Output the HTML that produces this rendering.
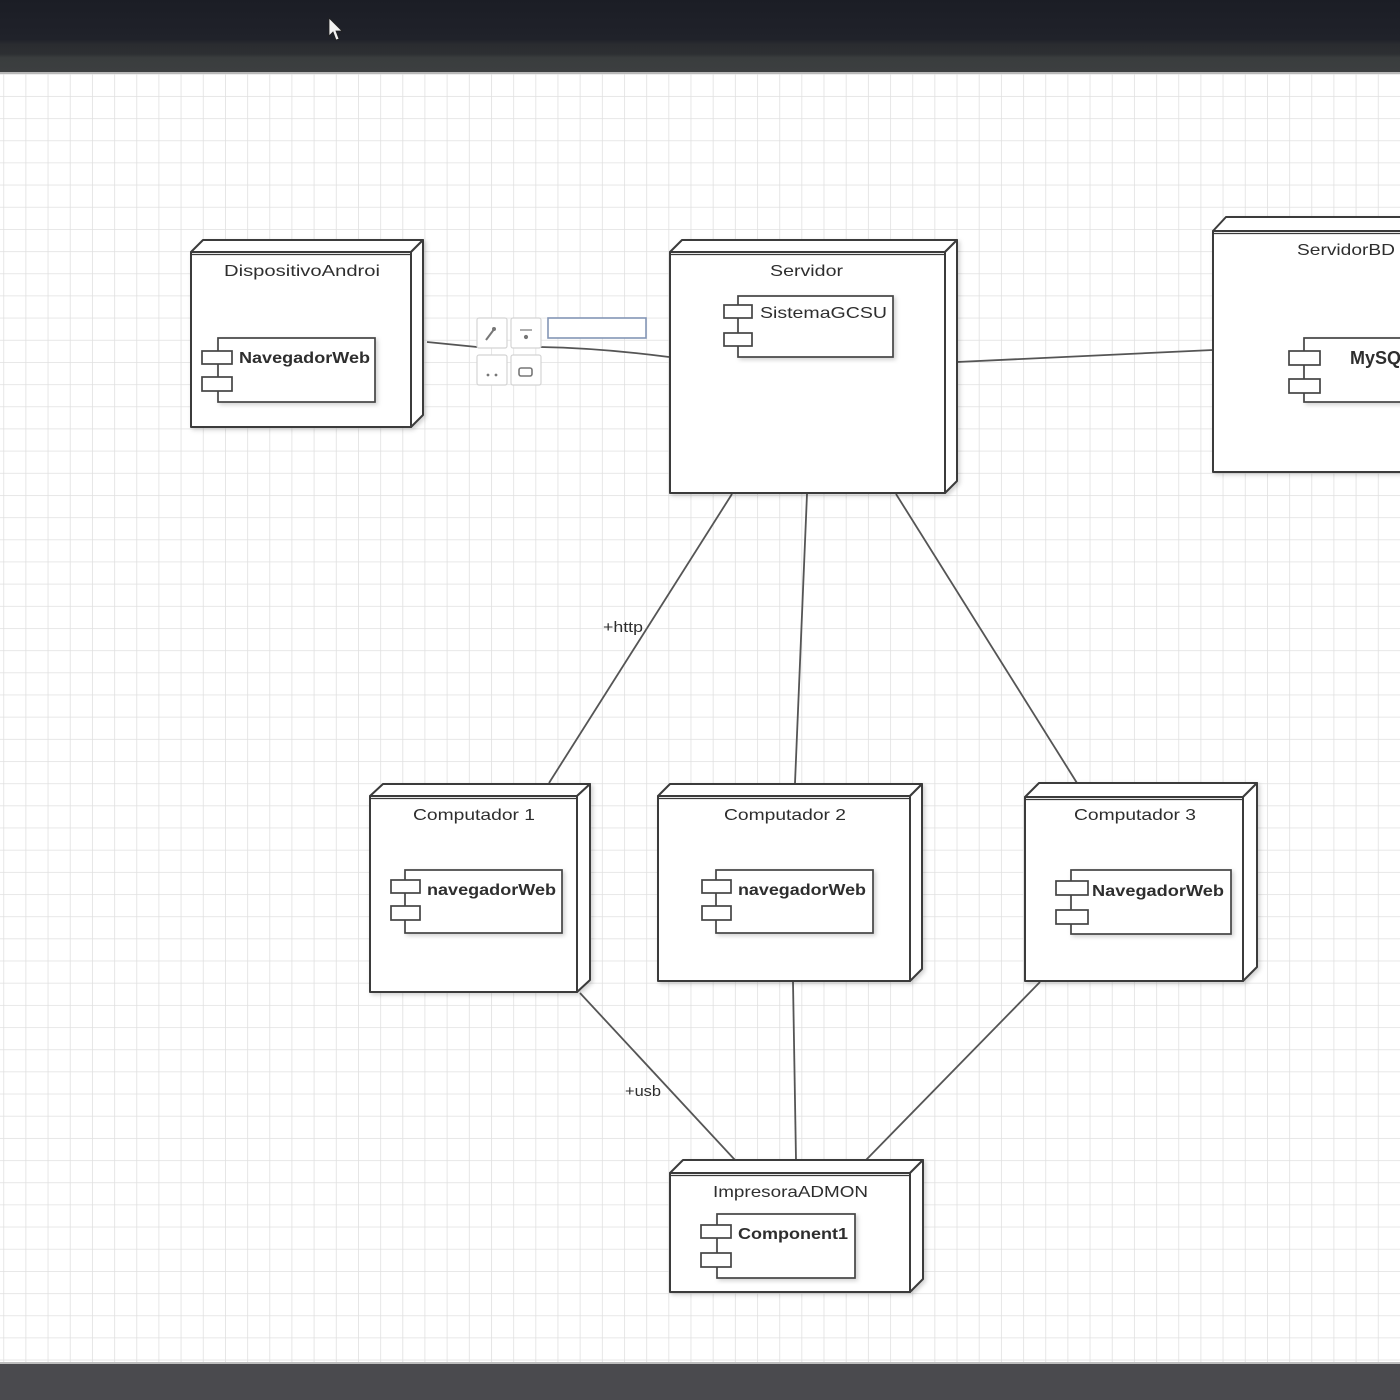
<!DOCTYPE html>
<html>
<head>
<meta charset="utf-8">
<style>
html,body{margin:0;padding:0;width:1400px;height:1400px;overflow:hidden;background:#fff;}
svg{display:block;}
text{font-family:"Liberation Sans",Arial,sans-serif;fill:#2e2e2e;}
</style>
</head>
<body>
<svg width="1400" height="1400" viewBox="0 0 1400 1400" xmlns="http://www.w3.org/2000/svg">
  <defs>
    <pattern id="grid" x="3.3" y="7.3" width="22.17" height="22.17" patternUnits="userSpaceOnUse">
      <path d="M0 0 H22.17 M0 0 V22.17" stroke="#e0e0e0" stroke-width="1.6" fill="none"/>
    </pattern>
    <linearGradient id="topbar" x1="0" y1="0" x2="0" y2="1">
      <stop offset="0" stop-color="#1b1d25"/>
      <stop offset="0.55" stop-color="#20222a"/>
      <stop offset="0.62" stop-color="#2a2c30"/>
      <stop offset="0.75" stop-color="#2d2f32"/>
      <stop offset="0.8" stop-color="#3a3d3e"/>
      <stop offset="1" stop-color="#3c3f40"/>
    </linearGradient>
    <filter id="sh" x="-5%" y="-5%" width="115%" height="115%">
      <feDropShadow dx="2" dy="2" stdDeviation="2" flood-color="#000" flood-opacity="0.18"/>
    </filter>
  </defs>

  <!-- canvas -->
  <rect x="0" y="0" width="1400" height="1400" fill="#fff"/>
  <rect x="0" y="72" width="1400" height="1292" fill="url(#grid)"/>

  <!-- top bar -->
  <rect x="0" y="0" width="1400" height="72" fill="url(#topbar)"/>
  <rect x="0" y="72" width="1400" height="2" fill="#b8b8b8"/>
  <!-- cursor -->
  <path d="M329 18 L329 36 L333 32 L336 40 L339 39 L336 31 L342 31 Z" fill="#f2f2f2" stroke="#222" stroke-width="0.8"/>

  <!-- bottom bar -->
  <rect x="0" y="1362" width="1400" height="2" fill="#bdbdbd"/>
  <rect x="0" y="1364" width="1400" height="36" fill="#4a4a4e"/>

  <!-- connectors -->
  <g stroke="#555" stroke-width="1.8" fill="none">
    <path d="M427 342 L477 347"/>
    <path d="M540 347 Q600 348 669 357"/>
    <path d="M957 362 L1213 350"/>
    <path d="M732 494 L549 783"/>
    <path d="M807 494 L795 783"/>
    <path d="M896 494 L1077 783"/>
    <path d="M580 993 L735 1160"/>
    <path d="M793 982 L796 1160"/>
    <path d="M1040 982 L866 1160"/>
  </g>

  <!-- connector labels -->
  <text x="603" y="632" font-size="15" textLength="40" lengthAdjust="spacingAndGlyphs" fill="#555">+http</text>
  <text x="625" y="1096" font-size="15" textLength="36" lengthAdjust="spacingAndGlyphs" fill="#555">+usb</text>

  <!-- toolbar -->
  <g stroke="#d4d4d4" stroke-width="1.2" fill="#fff">
    <rect x="477" y="318" width="30" height="30" rx="2"/>
    <rect x="511" y="318" width="30" height="30" rx="2"/>
    <rect x="477" y="355" width="30" height="30" rx="2"/>
    <rect x="511" y="355" width="30" height="30" rx="2"/>
  </g>
  <g fill="#777" stroke="#777">
    <path d="M486 340 L492 332 M492 332 l3 -4" stroke-width="2" fill="none"/>
    <circle cx="494" cy="329" r="1.5"/>
    <path d="M520 330 h12" stroke-width="1.2"/>
    <circle cx="526" cy="337" r="1.6"/>
    <circle cx="488" cy="375" r="0.9"/>
    <circle cx="496" cy="375" r="0.9"/>
    <rect x="519" y="368" width="13" height="8" rx="2" fill="none" stroke-width="1.6"/>
  </g>
  <rect x="548" y="318" width="98" height="20" fill="#fff" stroke="#8496b6" stroke-width="1.6"/>

  <!-- nodes -->
  <g stroke="#3a3a3a" stroke-width="2" stroke-linejoin="round">
    <!-- DispositivoAndroi -->
    <g filter="url(#sh)">
      <polygon points="191,252 203,240 423,240 411,252" fill="#fff"/>
      <polygon points="411,252 423,240 423,415 411,427" fill="#fff"/>
      <rect x="191" y="252" width="220" height="175" fill="#fff"/>
    </g>
    <line x1="191" y1="254.5" x2="411" y2="254.5" stroke-width="1.2"/>
    <!-- Servidor -->
    <g filter="url(#sh)">
      <polygon points="670,252 682,240 957,240 945,252" fill="#fff"/>
      <polygon points="945,252 957,240 957,481 945,493" fill="#fff"/>
      <rect x="670" y="252" width="275" height="241" fill="#fff"/>
    </g>
    <line x1="670" y1="254.5" x2="945" y2="254.5" stroke-width="1.2"/>
    <!-- ServidorBD -->
    <g filter="url(#sh)">
      <polygon points="1213,231 1226,217 1430,217 1417,231" fill="#fff"/>
      <rect x="1213" y="231" width="210" height="241" fill="#fff"/>
    </g>
    <line x1="1213" y1="233.5" x2="1400" y2="233.5" stroke-width="1.2"/>
    <!-- Computador 1 -->
    <g filter="url(#sh)">
      <polygon points="370,796 383,784 590,784 577,796" fill="#fff"/>
      <polygon points="577,796 590,784 590,980 577,992" fill="#fff"/>
      <rect x="370" y="796" width="207" height="196" fill="#fff"/>
    </g>
    <line x1="370" y1="798.5" x2="577" y2="798.5" stroke-width="1.2"/>
    <!-- Computador 2 -->
    <g filter="url(#sh)">
      <polygon points="658,796 670,784 922,784 910,796" fill="#fff"/>
      <polygon points="910,796 922,784 922,969 910,981" fill="#fff"/>
      <rect x="658" y="796" width="252" height="185" fill="#fff"/>
    </g>
    <line x1="658" y1="798.5" x2="910" y2="798.5" stroke-width="1.2"/>
    <!-- Computador 3 -->
    <g filter="url(#sh)">
      <polygon points="1025,797 1039,783 1257,783 1243,797" fill="#fff"/>
      <polygon points="1243,797 1257,783 1257,967 1243,981" fill="#fff"/>
      <rect x="1025" y="797" width="218" height="184" fill="#fff"/>
    </g>
    <line x1="1025" y1="799.5" x2="1243" y2="799.5" stroke-width="1.2"/>
    <!-- ImpresoraADMON -->
    <g filter="url(#sh)">
      <polygon points="670,1173 683,1160 923,1160 910,1173" fill="#fff"/>
      <polygon points="910,1173 923,1160 923,1279 910,1292" fill="#fff"/>
      <rect x="670" y="1173" width="240" height="119" fill="#fff"/>
    </g>
    <line x1="670" y1="1175.5" x2="910" y2="1175.5" stroke-width="1.2"/>
  </g>

  <!-- components -->
  <g stroke="#444" stroke-width="1.7" fill="#fff">
    <rect x="218" y="338" width="157" height="64" filter="url(#sh)"/>
    <rect x="202" y="351" width="30" height="13"/>
    <rect x="202" y="377" width="30" height="14"/>
    <rect x="738" y="296" width="155" height="61" filter="url(#sh)"/>
    <rect x="724" y="305" width="28" height="13"/>
    <rect x="724" y="333" width="28" height="13"/>
    <rect x="1304" y="338" width="120" height="64" filter="url(#sh)"/>
    <rect x="1289" y="351" width="31" height="14"/>
    <rect x="1289" y="379" width="31" height="14"/>
    <rect x="405" y="870" width="157" height="63" filter="url(#sh)"/>
    <rect x="391" y="880" width="29" height="13"/>
    <rect x="391" y="906" width="29" height="14"/>
    <rect x="716" y="870" width="157" height="63" filter="url(#sh)"/>
    <rect x="702" y="880" width="29" height="13"/>
    <rect x="702" y="906" width="29" height="14"/>
    <rect x="1071" y="870" width="160" height="64" filter="url(#sh)"/>
    <rect x="1056" y="881" width="32" height="14"/>
    <rect x="1056" y="910" width="32" height="14"/>
    <rect x="717" y="1214" width="138" height="64" filter="url(#sh)"/>
    <rect x="701" y="1225" width="30" height="13"/>
    <rect x="701" y="1253" width="30" height="14"/>
  </g>

  <!-- node titles -->
  <g font-size="16">
    <text x="224" y="276" textLength="156" lengthAdjust="spacingAndGlyphs">DispositivoAndroi</text>
    <text x="770" y="276" textLength="73" lengthAdjust="spacingAndGlyphs">Servidor</text>
    <text x="1297" y="255" textLength="98" lengthAdjust="spacingAndGlyphs">ServidorBD</text>
    <text x="413" y="820" textLength="122" lengthAdjust="spacingAndGlyphs">Computador 1</text>
    <text x="724" y="820" textLength="122" lengthAdjust="spacingAndGlyphs">Computador 2</text>
    <text x="1074" y="820" textLength="122" lengthAdjust="spacingAndGlyphs">Computador 3</text>
    <text x="713" y="1197" textLength="155" lengthAdjust="spacingAndGlyphs">ImpresoraADMON</text>
  </g>
  <!-- component names -->
  <g font-size="16" font-weight="bold">
    <text x="239" y="363" textLength="131" lengthAdjust="spacingAndGlyphs" fill="#3a3a3a">NavegadorWeb</text>
    <text x="760" y="318" textLength="127" lengthAdjust="spacingAndGlyphs" fill="#3a3a3a" font-weight="normal">SistemaGCSU</text>
    <text x="1350" y="364" font-size="18" fill="#3a3a3a">MySQL</text>
    <text x="427" y="895" textLength="129" lengthAdjust="spacingAndGlyphs" fill="#3a3a3a">navegadorWeb</text>
    <text x="738" y="895" textLength="128" lengthAdjust="spacingAndGlyphs" fill="#3a3a3a">navegadorWeb</text>
    <text x="1092" y="896" textLength="132" lengthAdjust="spacingAndGlyphs" fill="#3a3a3a">NavegadorWeb</text>
    <text x="738" y="1239" textLength="110" lengthAdjust="spacingAndGlyphs" fill="#3a3a3a">Component1</text>
  </g>
</svg>
</body>
</html>
